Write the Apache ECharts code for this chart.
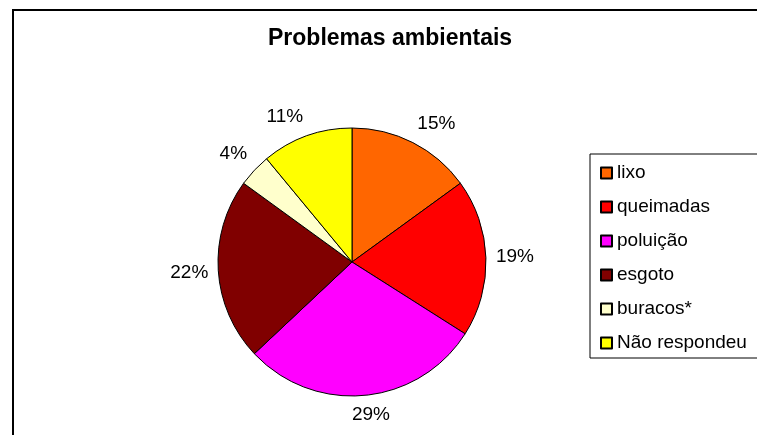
<!DOCTYPE html>
<html>
<head>
<meta charset="utf-8">
<script src="https://cdn.jsdelivr.net/npm/echarts@6/dist/echarts.min.js"></script>
<style>
  html, body { margin: 0; padding: 0; background: #fff; }
  #chart { width: 757px; height: 435px; }
</style>
</head>
<body>
<div id="chart"></div>
<script>
// Problemas ambientais — share of answers (%)
const categories = ['lixo', 'queimadas', 'poluição', 'esgoto', 'buracos*', 'Não respondeu'];
const values = [15, 19, 29, 22, 4, 11];
const colors = ['#FF6600', '#FF0000', '#FF00FF', '#800000', '#FFFFCC', '#FFFF00'];

const FONT = "'Liberation Sans', Arial, sans-serif";
const PIE_CENTER = [352, 262];
const PIE_RADIUS = 134;
const LABEL_GAP = 10;

const total = values.reduce((a, b) => a + b, 0);

// mid angle of each slice, measured clockwise from 12 o'clock
function midAngle(i) {
  let before = 0;
  for (let k = 0; k < i; k++) before += values[k];
  return ((before + values[i] / 2) / total) * Math.PI * 2;
}

// soft sign used to push a label box away from the rim by its half size
function softSign(v) {
  return Math.max(-1, Math.min(1, v * 3));
}

const chart = echarts.init(document.getElementById('chart'), null, { renderer: 'canvas' });

chart.setOption({
  animation: false,
  backgroundColor: '#ffffff',
  title: {
    text: 'Problemas ambientais',
    left: 268,
    top: 27,
    padding: 0,
    textStyle: { fontFamily: FONT, fontSize: 23, fontWeight: 'bold', color: '#000' }
  },
  legend: {
    orient: 'vertical',
    left: 590,
    top: 154,
    padding: [9, 40, 5, 10],
    itemGap: 14,
    itemWidth: 11,
    itemHeight: 11,
    icon: 'rect',
    borderColor: '#000',
    borderWidth: 1,
    data: categories,
    textStyle: { fontFamily: FONT, fontSize: 19, lineHeight: 20, color: '#000' }
  },
  graphic: [{
    type: 'rect',
    silent: true,
    shape: { x: 13, y: 10, width: 800, height: 500 },
    style: { fill: 'none', stroke: '#000', lineWidth: 2 }
  }],
  series: [{
    type: 'pie',
    center: PIE_CENTER,
    radius: PIE_RADIUS,
    startAngle: 90,
    clockwise: true,
    avoidLabelOverlap: false,
    data: categories.map((name, i) => ({
      name: name,
      value: values[i],
      itemStyle: { color: colors[i] }
    })),
    itemStyle: { borderColor: '#000', borderWidth: 1 },
    label: {
      show: true,
      position: 'outside',
      formatter: p => p.value + '%',
      fontFamily: FONT,
      fontSize: 19,
      color: '#000'
    },
    labelLine: { show: false },
    labelLayout: function (params) {
      const a = midAngle(params.dataIndex);
      const ux = Math.sin(a), uy = -Math.cos(a);
      const w = params.labelRect.width, h = params.labelRect.height;
      const rx = PIE_CENTER[0] + (PIE_RADIUS + LABEL_GAP) * ux;
      const ry = PIE_CENTER[1] + (PIE_RADIUS + LABEL_GAP) * uy;
      return {
        x: rx + (w / 2) * softSign(ux),
        y: ry + (h / 2) * softSign(uy),
        align: 'center',
        verticalAlign: 'middle'
      };
    },
    emphasis: { disabled: true }
  }]
});
</script>
</body>
</html>
